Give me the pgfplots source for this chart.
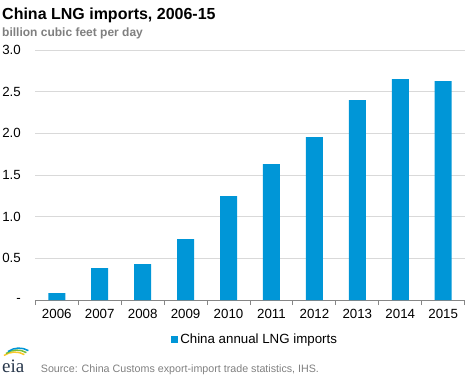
\documentclass[border=0pt]{standalone}
\usepackage{pgfplots}
\pgfplotsset{compat=1.18}
\usepackage{fontspec}
\setmainfont{Liberation Sans}
\newfontfamily\logofont{Liberation Serif}
\definecolor{eiablue}{RGB}{0,150,215}
\definecolor{gridgray}{RGB}{217,217,217}
\definecolor{axgray}{RGB}{134,134,134}
\definecolor{subgray}{RGB}{127,127,127}
\definecolor{srcgray}{RGB}{128,128,128}
\definecolor{logonavy}{RGB}{40,55,75}
\begin{document}
\begin{tikzpicture}[x=1pt,y=1pt]
\useasboundingbox (0,0) rectangle (468,378);
\node[anchor=base west, inner sep=0, font=\bfseries\fontsize{16}{19}\selectfont] at (2,358) {China LNG imports, 2006-15};
\node[anchor=base west, inner sep=0, text=subgray, font=\bfseries\fontsize{12}{14}\selectfont] at (2,341.5) {billion cubic feet per day};
\begin{axis}[
  at={(35.3pt,78pt)}, anchor=south west,
  scale only axis, width=429.4pt, height=250pt,
  xmin=-0.5, xmax=9.5, ymin=0, ymax=3,
  axis x line*=bottom, axis y line*=left,
  y axis line style={draw=none},
  x axis line style={draw=axgray, line width=1pt},
  xtick={0,...,9},
  xticklabels={2006,2007,2008,2009,2010,2011,2012,2013,2014,2015},
  ytick={0,0.5,1,1.5,2,2.5,3},
  yticklabels={-,0.5,1.0,1.5,2.0,2.5,3.0},
  major tick length=0pt,
  ymajorgrids, grid style={draw=gridgray, line width=1pt},
  extra x ticks={-0.5,0.5,1.5,2.5,3.5,4.5,5.5,6.5,7.5,8.5,9.5},
  extra x tick labels={},
  extra x tick style={major tick length=5pt, tick align=outside, tick style={draw=axgray, line width=1pt}, grid=none},
  ticklabel style={font=\fontsize{13.3}{15}\selectfont},
  yticklabel style={anchor=east, xshift=-11pt},
  xticklabel style={yshift=-5.6pt},
  legend style={at={(0.512,-0.156)}, anchor=center, draw=none, fill=none, inner sep=0pt,
    font=\fontsize{13.3}{15}\selectfont},
  legend image code/.code={\fill[eiablue] (0pt,-3.5pt) rectangle (7pt,3.5pt);},
]
\addplot[ybar, bar width=17pt, fill=eiablue, draw=none] coordinates {
 (0,0.084) (1,0.384) (2,0.432) (3,0.732) (4,1.248)
 (5,1.632) (6,1.956) (7,2.40) (8,2.652) (9,2.628)};
\addlegendentry{China annual LNG imports}
\end{axis}
% eia logo (decorative)
\draw[line width=1.5pt, color={rgb,255:red,250;green,200;blue,40}] (4,22.5) arc[start angle=125, end angle=60, radius=19];
\draw[line width=1.5pt, color={rgb,255:red,120;green,190;blue,60}] (6,24.5) arc[start angle=125, end angle=60, radius=19];
\draw[line width=1.5pt, color={rgb,255:red,0;green,150;blue,215}] (8,26.5) arc[start angle=125, end angle=60, radius=19];
\node[anchor=base west, inner sep=0, text=logonavy, font=\logofont\fontsize{19}{21}\selectfont] at (2,6) {eia};
\node[anchor=base west, inner sep=0, text=srcgray, font=\fontsize{10.7}{13}\selectfont] at (40.7,5.5) {Source: China Customs export-import trade statistics, IHS.};
\end{tikzpicture}
\end{document}
